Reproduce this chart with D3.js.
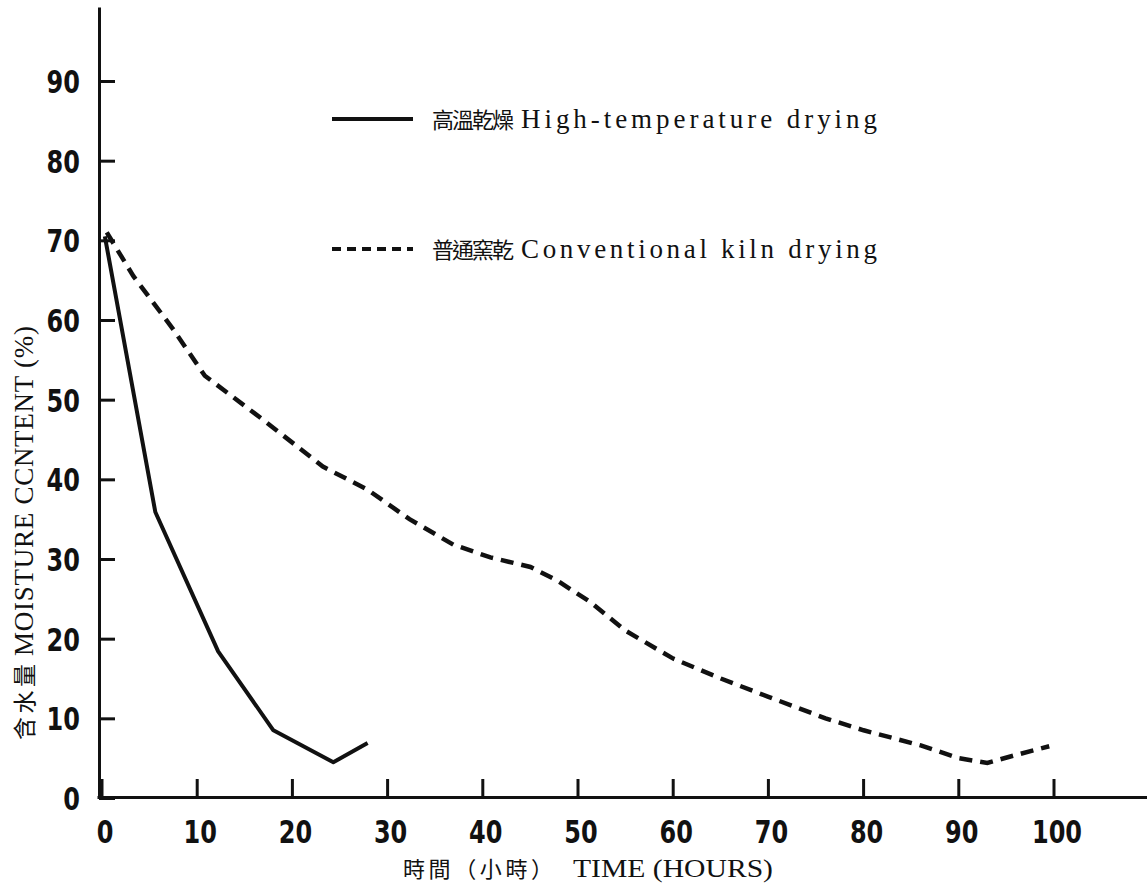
<!DOCTYPE html>
<html><head><meta charset="utf-8">
<script src="https://cdn.jsdelivr.net/npm/d3@7"></script>
<style>
html,body{margin:0;padding:0;background:#fff;}
svg{display:block;}
.tick text{font-family:"DejaVu Sans",sans-serif;font-weight:bold;font-size:32px;fill:#111;}
.serif{font-family:"Liberation Serif","Noto Sans CJK TC",serif;fill:#111;}
.cjk{font-family:"Noto Sans CJK TC",sans-serif;fill:#111;}
</style></head>
<body>
<script>
// ---- data ----
const xTicks = [0,10,20,30,40,50,60,70,80,90,100];
const yTicks = [0,10,20,30,40,50,60,70,80,90];
const highTempHours = [0.3, 5.6, 12.2, 18, 24.3, 27.9];
const highTempMC    = [70.5, 35.9, 18.4, 8.5, 4.5, 6.9];
const convHours = [0.5, 3.3, 7.5, 10.8, 16.9, 23.2, 27.9, 32.3, 36.9, 40.8, 45, 47.8, 51.3, 55, 60, 65, 70, 76, 80, 86, 90, 93, 96, 99.5];
const convMC    = [71, 65.5, 58.8, 53, 47.5, 41.6, 38.7, 35, 31.8, 30.2, 29, 27.3, 24.6, 21, 17.5, 15, 12.7, 10, 8.5, 6.6, 5, 4.4, 5.4, 6.5];
const legendCJK   = ["高溫乾燥", "普通窯乾"];
const legendLatin = ["High-temperature drying", "Conventional kiln drying"];
const xTitleCJK = "時間（小時）";
const xTitleLatin = "TIME (HOURS)";
const yTitleCJK = "含水量";
const yTitleLatin = "MOISTURE CCNTENT (%)";

const W = 1147, H = 888;
const svg = d3.select("body").append("svg").attr("width", W).attr("height", H);

const x = d3.scaleLinear().domain([0,100]).range([102,1054]);
const y = d3.scaleLinear().domain([0,90]).range([798,81]);
const xAxisScale = x.copy().domain([x.invert(97), x.invert(1147)]).range([97,1147]);
const yAxisScale = y.copy().domain([0, y.invert(7)]).range([798,7]);
const SX = 0.75;

// y axis
const gy = svg.append("g").attr("transform","translate(99,0)")
  .call(d3.axisLeft(yAxisScale).tickValues(yTicks).tickSize(-16).tickSizeOuter(0).tickPadding(19).tickFormat(d3.format("d")));
gy.select(".domain").attr("stroke","#111").attr("stroke-width",3);
gy.selectAll(".tick line").attr("stroke","#111").attr("stroke-width",3);
gy.selectAll(".tick text").attr("x", -19/SX).attr("dy","0.36em").attr("transform",`scale(${SX},1)`);

// x axis
const gx = svg.append("g").attr("transform","translate(0,797)")
  .call(d3.axisBottom(xAxisScale).tickValues(xTicks).tickSize(-18).tickSizeOuter(0).tickPadding(26).tickFormat(d3.format("d")));
gx.select(".domain").attr("stroke","#111").attr("stroke-width",3);
gx.selectAll(".tick line").attr("stroke","#111").attr("stroke-width",3);
gx.selectAll(".tick").each(function(d){
  const g = d3.select(this);
  const tx = xAxisScale(d);
  g.attr("transform", null);
  g.select("line").attr("x1", tx).attr("x2", tx);
  g.select("text").attr("x", (tx+3)/SX).attr("y", 46).attr("dy", 0).attr("transform",`scale(${SX},1)`);
});

// lines
const line = d3.line().x(d=>x(d[0])).y(d=>y(d[1]));
const highData = highTempHours.map((h,i)=>[h, highTempMC[i]]);
const convData = convHours.map((h,i)=>[h, convMC[i]]);
svg.append("path").datum(highData).attr("d",line)
  .attr("fill","none").attr("stroke","#111").attr("stroke-width",4).attr("stroke-linejoin","round");
svg.append("path").datum(convData).attr("d",line)
  .attr("fill","none").attr("stroke","#111").attr("stroke-width",4.5).attr("stroke-dasharray","13 8");

// legend
const legY = [119, 249];
const legDash = [null, "9 6"];
legendCJK.forEach((t,i)=>{
  svg.append("line").attr("x1",332).attr("x2",413).attr("y1",legY[i]).attr("y2",legY[i])
    .attr("stroke","#111").attr("stroke-width",4).attr("stroke-dasharray",legDash[i]);
  svg.append("text").attr("class","cjk").attr("x",432).attr("y",legY[i]+9)
    .attr("font-size",22).attr("textLength",82).attr("lengthAdjust","spacing").text(t);
  svg.append("text").attr("class","serif").attr("x",521).attr("y",legY[i]+9)
    .attr("font-size",27).attr("textLength",356).attr("lengthAdjust","spacing").text(legendLatin[i]);
});

// x title
svg.append("text").attr("class","cjk").attr("x",403).attr("y",877)
  .attr("font-size",22).attr("textLength",150).attr("lengthAdjust","spacing").text(xTitleCJK);
svg.append("text").attr("class","serif").attr("x",573).attr("y",877)
  .attr("font-size",26).attr("textLength",200).attr("lengthAdjust","spacingAndGlyphs").text(xTitleLatin);

// y title (rotated)
const gyt = svg.append("g").attr("transform","translate(33,0) rotate(-90)");
gyt.append("text").attr("class","cjk").attr("x",-740).attr("y",0)
  .attr("font-size",23).attr("textLength",76).attr("lengthAdjust","spacing").text(yTitleCJK);
gyt.append("text").attr("class","serif").attr("x",-656).attr("y",0)
  .attr("font-size",27).attr("textLength",330).attr("lengthAdjust","spacing").text(yTitleLatin);
</script>
</body></html>
